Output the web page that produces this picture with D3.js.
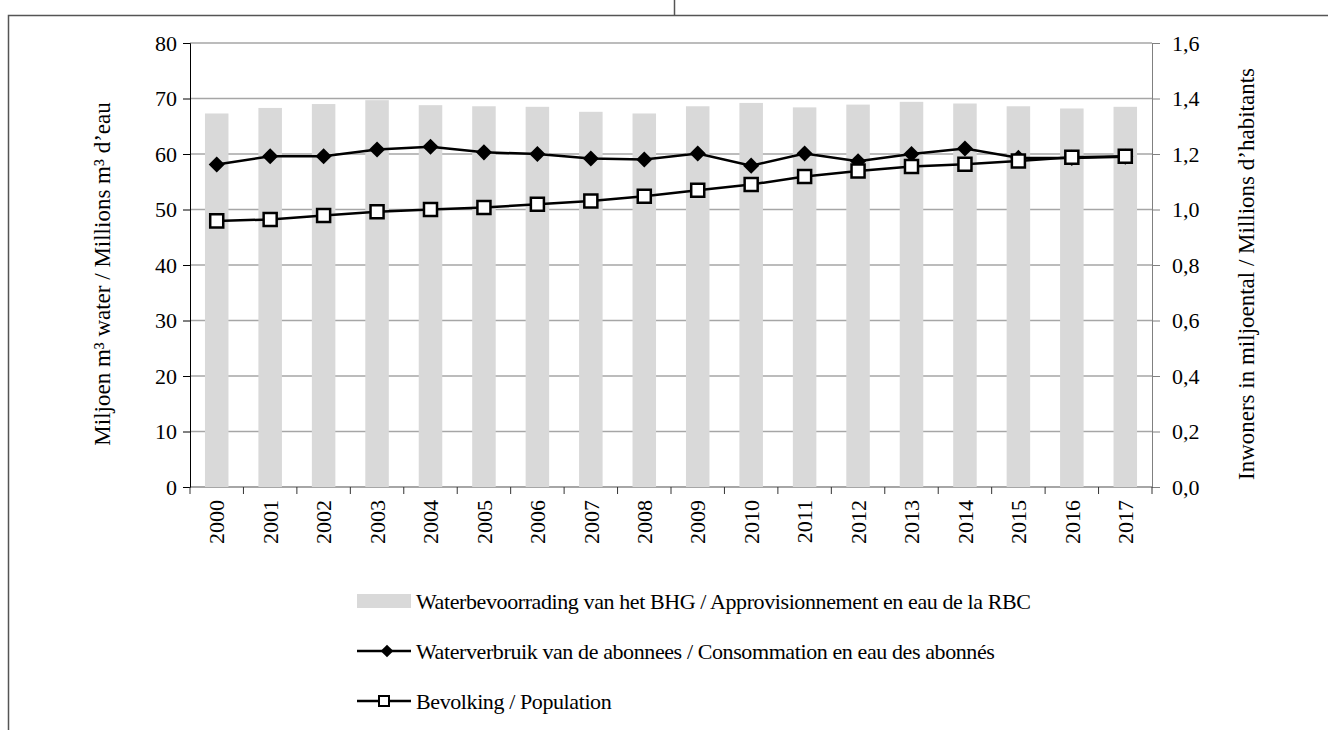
<!DOCTYPE html>
<html>
<head>
<meta charset="utf-8">
<script src="https://cdn.jsdelivr.net/npm/d3@7"></script>
<style>
  body { margin: 0; background: #fff; }
  svg, svg text { font-family: "Liberation Serif", "Times New Roman", Times, "DejaVu Serif", "Noto Serif", serif !important; }
</style>
</head>
<body>
<div id="chart"></div>
<script>
// years on the x axis
var years = ["2000","2001","2002","2003","2004","2005","2006","2007","2008",
             "2009","2010","2011","2012","2013","2014","2015","2016","2017"]

// water supply of the region, million m3 (bars, left axis)
var supply = [67.3, 68.3, 69.0, 69.7, 68.8, 68.6, 68.5, 67.6, 67.3,
              68.6, 69.2, 68.4, 68.9, 69.4, 69.1, 68.6, 68.2, 68.5]

// consumption of subscribers, million m3 (diamonds, left axis)
var consumption = [58.1, 59.6, 59.6, 60.8, 61.3, 60.3, 60.0, 59.2, 59.0,
                   60.1, 57.9, 60.1, 58.7, 60.0, 61.0, 59.3, 59.3, 59.5]

// population, millions (squares, right axis)
var population = [0.959, 0.964, 0.978, 0.992, 1.000, 1.007, 1.019, 1.031, 1.048,
                  1.069, 1.090, 1.119, 1.139, 1.155, 1.163, 1.175, 1.188, 1.192]

var leftTicks = [0, 10, 20, 30, 40, 50, 60, 70, 80]
var rightTicks = [0, 0.2, 0.4, 0.6, 0.8, 1.0, 1.2, 1.4, 1.6]

var legendLabels = [
   "Waterbevoorrading van het BHG / Approvisionnement en eau de la RBC",
   "Waterverbruik van de abonnees / Consommation en eau des abonnés",
   "Bevolking / Population"
]

var width = 1328
var height = 730
var plot = { left: 190, right: 1152, top: 43, bottom: 487 }
var fontSize = 22

var svg = d3.select("#chart").append("svg")
   .attr("width", width)
   .attr("height", height)

// outer frame of the figure
svg.append("path")
   .attr("d", "M8.5," + height + "V15.5H" + width)
   .attr("fill", "none")
   .attr("stroke", "#555")
   .attr("stroke-width", 1.5)
svg.append("line")
   .attr("x1", 674.5).attr("x2", 674.5)
   .attr("y1", 0).attr("y2", 15)
   .attr("stroke", "#555")
   .attr("stroke-width", 1.5)

var x = d3.scaleBand().domain(years).range([plot.left, plot.right]).padding(0)
var yLeft = d3.scaleLinear().domain([0, 80]).range([plot.bottom, plot.top])
var yRight = d3.scaleLinear().domain([0, 1.6]).range([plot.bottom, plot.top])

var fmtRight = function(d) { return d3.format(".1f")(d).replace(".", ",") }

// gridlines
svg.append("g").selectAll("line.grid").data(leftTicks).enter().append("line")
   .attr("class", "grid")
   .attr("x1", plot.left).attr("x2", plot.right)
   .attr("y1", function(d) { return yLeft(d) }).attr("y2", function(d) { return yLeft(d) })
   .attr("stroke", "#a6a6a6")
   .attr("stroke-width", function(d) { return d == 0 ? 2 : 1.5 })

// bars
var barW = x.bandwidth() * 0.44
svg.append("g").selectAll("rect.bar").data(supply).enter().append("rect")
   .attr("class", "bar")
   .attr("x", function(d, i) { return x(years[i]) + (x.bandwidth() - barW) / 2 })
   .attr("width", barW)
   .attr("y", function(d) { return yLeft(d) })
   .attr("height", function(d) { return yLeft(0) - yLeft(d) })
   .attr("fill", "#d9d9d9")

// left axis
var axL = svg.append("g").attr("transform", "translate(" + plot.left + ",0)")
   .call(d3.axisLeft(yLeft).tickValues(leftTicks).tickSize(7).tickPadding(6))
axL.attr("font-family", null)
axL.select(".domain").attr("stroke", "#000")
axL.selectAll("text").attr("font-size", fontSize).attr("fill", "#000")

// right axis
var axR = svg.append("g").attr("transform", "translate(" + plot.right + ",0)")
   .call(d3.axisRight(yRight).tickValues(rightTicks).tickFormat(fmtRight).tickSize(8).tickPadding(12))
axR.attr("font-family", null)
axR.select(".domain").attr("stroke", "#808080")
axR.selectAll(".tick line").attr("stroke", "#808080")
axR.selectAll("text").attr("font-size", fontSize).attr("fill", "#000")

// x axis ticks at category boundaries
var bounds = years.map(function(d) { return x(d) }).concat([plot.right])
svg.append("g").selectAll("line.xtick").data(bounds).enter().append("line")
   .attr("x1", function(d) { return d }).attr("x2", function(d) { return d })
   .attr("y1", plot.bottom).attr("y2", plot.bottom + 7)
   .attr("stroke", "#333")

svg.append("g").selectAll("text.year").data(years).enter().append("text")
   .attr("transform", function(d) {
      return "translate(" + (x(d) + x.bandwidth() / 2) + "," + (plot.bottom + 13) + ") rotate(-90)"
   })
   .attr("text-anchor", "end")
   .attr("dy", "0.35em")
   .attr("font-size", fontSize)
   .text(function(d) { return d })

// axis titles
svg.append("text")
   .attr("transform", "translate(110,274) rotate(-90)")
   .attr("text-anchor", "middle")
   .attr("font-size", fontSize + 1)
   .text("Miljoen m³ water / Millions m³ d’eau")

svg.append("text")
   .attr("transform", "translate(1254,274) rotate(-90)")
   .attr("text-anchor", "middle")
   .attr("font-size", fontSize + 1)
   .text("Inwoners in miljoental / Millions d’habitants")

// consumption line
var cx = function(i) { return x(years[i]) + x.bandwidth() / 2 }
var consLine = d3.line().x(function(d, i) { return cx(i) }).y(function(d) { return yLeft(d) })
svg.append("path")
   .datum(consumption)
   .attr("d", consLine)
   .attr("fill", "none")
   .attr("stroke", "#000")
   .attr("stroke-width", 2.5)

var diamond = d3.symbol().type(d3.symbolSquare).size(130)
svg.append("g").selectAll("path.diamond").data(consumption).enter().append("path")
   .attr("d", diamond)
   .attr("transform", function(d, i) { return "translate(" + cx(i) + "," + yLeft(d) + ") rotate(45)" })
   .attr("fill", "#000")

// population line
var popLine = d3.line().x(function(d, i) { return cx(i) }).y(function(d) { return yRight(d) })
svg.append("path")
   .datum(population)
   .attr("d", popLine)
   .attr("fill", "none")
   .attr("stroke", "#000")
   .attr("stroke-width", 2.5)

var square = d3.symbol().type(d3.symbolSquare).size(170)
svg.append("g").selectAll("path.square").data(population).enter().append("path")
   .attr("d", square)
   .attr("transform", function(d, i) { return "translate(" + cx(i) + "," + yRight(d) + ")" })
   .attr("fill", "#fff")
   .attr("stroke", "#000")
   .attr("stroke-width", 2.5)

// legend
var legX = 357, legW = 54, legY = 601, legStep = 50
var leg = svg.append("g")
leg.selectAll("text").data(legendLabels).enter().append("text")
   .attr("x", legX + legW + 5)
   .attr("y", function(d, i) { return legY + i * legStep })
   .attr("dy", "0.35em")
   .attr("font-size", fontSize)
   .attr("letter-spacing", -0.4)
   .text(function(d) { return d })

leg.append("rect")
   .attr("x", legX).attr("y", legY - 7)
   .attr("width", legW).attr("height", 14)
   .attr("fill", "#d9d9d9")

leg.append("line")
   .attr("x1", legX).attr("x2", legX + legW)
   .attr("y1", legY + legStep).attr("y2", legY + legStep)
   .attr("stroke", "#000").attr("stroke-width", 2.5)
leg.append("path")
   .attr("d", d3.symbol().type(d3.symbolSquare).size(80))
   .attr("transform", "translate(" + (legX + legW / 2 + 3) + "," + (legY + legStep) + ") rotate(45)")
   .attr("fill", "#000")

leg.append("line")
   .attr("x1", legX).attr("x2", legX + legW)
   .attr("y1", legY + 2 * legStep).attr("y2", legY + 2 * legStep)
   .attr("stroke", "#000").attr("stroke-width", 2.5)
leg.append("path")
   .attr("d", d3.symbol().type(d3.symbolSquare).size(100))
   .attr("transform", "translate(" + (legX + legW / 2) + "," + (legY + 2 * legStep) + ")")
   .attr("fill", "#fff")
   .attr("stroke", "#000").attr("stroke-width", 2)
</script>
</body>
</html>
